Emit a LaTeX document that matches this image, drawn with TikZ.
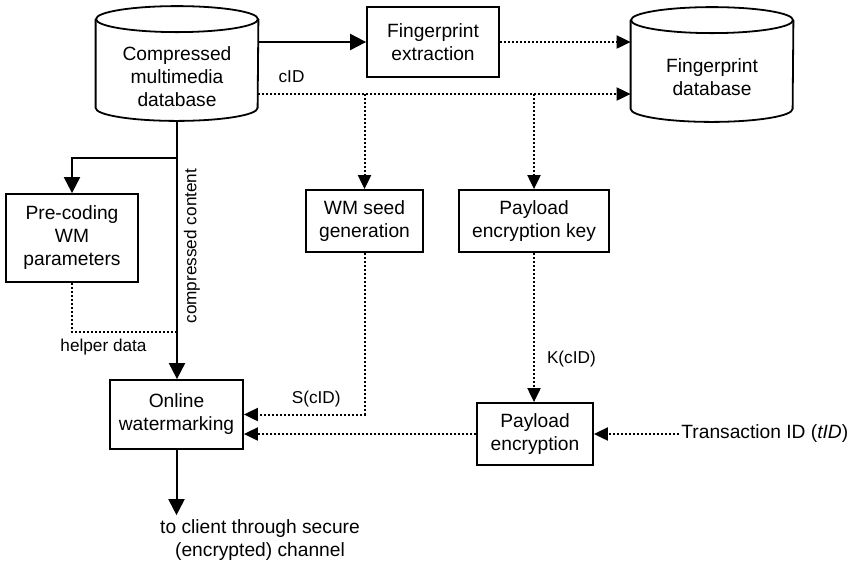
\documentclass[tikz,border=0pt]{standalone}
\usepackage{fontspec}
\setmainfont{Liberation Sans}
\usetikzlibrary{arrows.meta,positioning,calc}

% outline of a database drum around a named node
\newcommand{\dbshape}[1]{%
  \draw[dbline] ($(#1.north)+(0,-13)$) ellipse [x radius=40.5pt, y radius=6.5pt];
  \draw[dbline] ($(#1.north west)+(0,-13)$) -- ($(#1.south west)+(0,-13)$)
    arc[start angle=180, end angle=360, x radius=40.5pt, y radius=6.5pt]
    -- ($(#1.north east)+(0,-13)$);}

\begin{document}
\begin{tikzpicture}[x=0.5pt, y=-0.5pt,
  font=\fontsize{9.6}{11.5}\selectfont,
  box/.style={draw, line width=0.9pt, align=center, inner sep=2pt},
  db/.style={minimum width=81pt, minimum height=44pt, align=center, inner sep=0pt},
  dbline/.style={line width=0.9pt},
  arr/.style={-{Triangle[length=8pt, width=8pt]}, line width=1pt},
  darr/.style={-{Triangle[length=7pt, width=6.5pt]}, line width=1pt, dash pattern=on 1pt off 1pt},
  dline/.style={line width=1pt, dash pattern=on 1pt off 1pt},
  lab/.style={font=\fontsize{8.6}{10}\selectfont, inner sep=1pt}]
  \useasboundingbox (0,0) rectangle (849,564);

  \node[db] (cmdb) at (177,76.5) {Compressed\\multimedia\\database};
  \dbshape{cmdb}
  \node[db] (fpdb) at (712,77.5) {Fingerprint\\database};
  \dbshape{fpdb}

  \node[box, minimum width=66pt, minimum height=35pt]   (fpx)  at (433,42)      {Fingerprint\\extraction};
  \node[box, minimum width=66pt, minimum height=44pt]   (pre)  at (72,238)      {Pre-coding\\WM\\parameters};
  \node[box, minimum width=58.5pt, minimum height=31pt] (wms)  at (364.5,221)   {WM seed\\generation};
  \node[box, minimum width=75pt, minimum height=31pt]   (pek)  at (534,221)     {Payload\\encryption key};
  \node[box, minimum width=66.5pt, minimum height=34.5pt] (owm) at (176.5,414.5) {Online\\watermarking};
  \node[box, minimum width=58pt, minimum height=31pt]   (pe)   at (535,434)     {Payload\\encryption};
  \node[inner sep=1pt, anchor=west] (tid) at (679,434) {Transaction ID (\textit{tID})};
  \node[align=center, inner sep=2pt] (client) at (260,540) {to client through secure\\(encrypted) channel};

  \coordinate (cid)    at (258,94);
  \coordinate (split)  at (177,158);
  \coordinate (helper) at (177,332);

  % content path
  \draw[arr] (cmdb.east |- fpx.west) -- (fpx.west);
  \draw[darr] (fpx.east) -- (fpx.east -| fpdb.west);
  \draw[arr] (cmdb.south) -- node[pos=0.485, rotate=90, anchor=north, lab, inner sep=3pt]{compressed content} (cmdb.south |- owm.north);
  \draw[arr] (split) -| (pre.north);
  \draw[dline] (pre.south) |- node[pos=0.65, below=2pt, lab]{helper data} (helper);
  \draw[arr] (owm.south) -- (owm.south |- client.north);

  % content ID
  \draw[darr] (cid) -- node[pos=0.09, above=4pt, lab]{cID} (cid -| fpdb.west);
  \draw[darr] (wms.north |- cid) -- (wms.north);
  \draw[darr] (pek.north |- cid) -- (pek.north);
  \draw[darr] (wms.south) |- node[pos=0.7, above=2pt, lab]{S(cID)} (owm.east);
  \draw[darr] (pek.south) -- node[pos=0.71, right=5pt, lab]{K(cID)} (pek.south |- pe.north);
  \draw[darr] (pe.west) -- (pe.west -| owm.east);
  \draw[darr] (tid.west) -- (pe.east);
\end{tikzpicture}
\end{document}
